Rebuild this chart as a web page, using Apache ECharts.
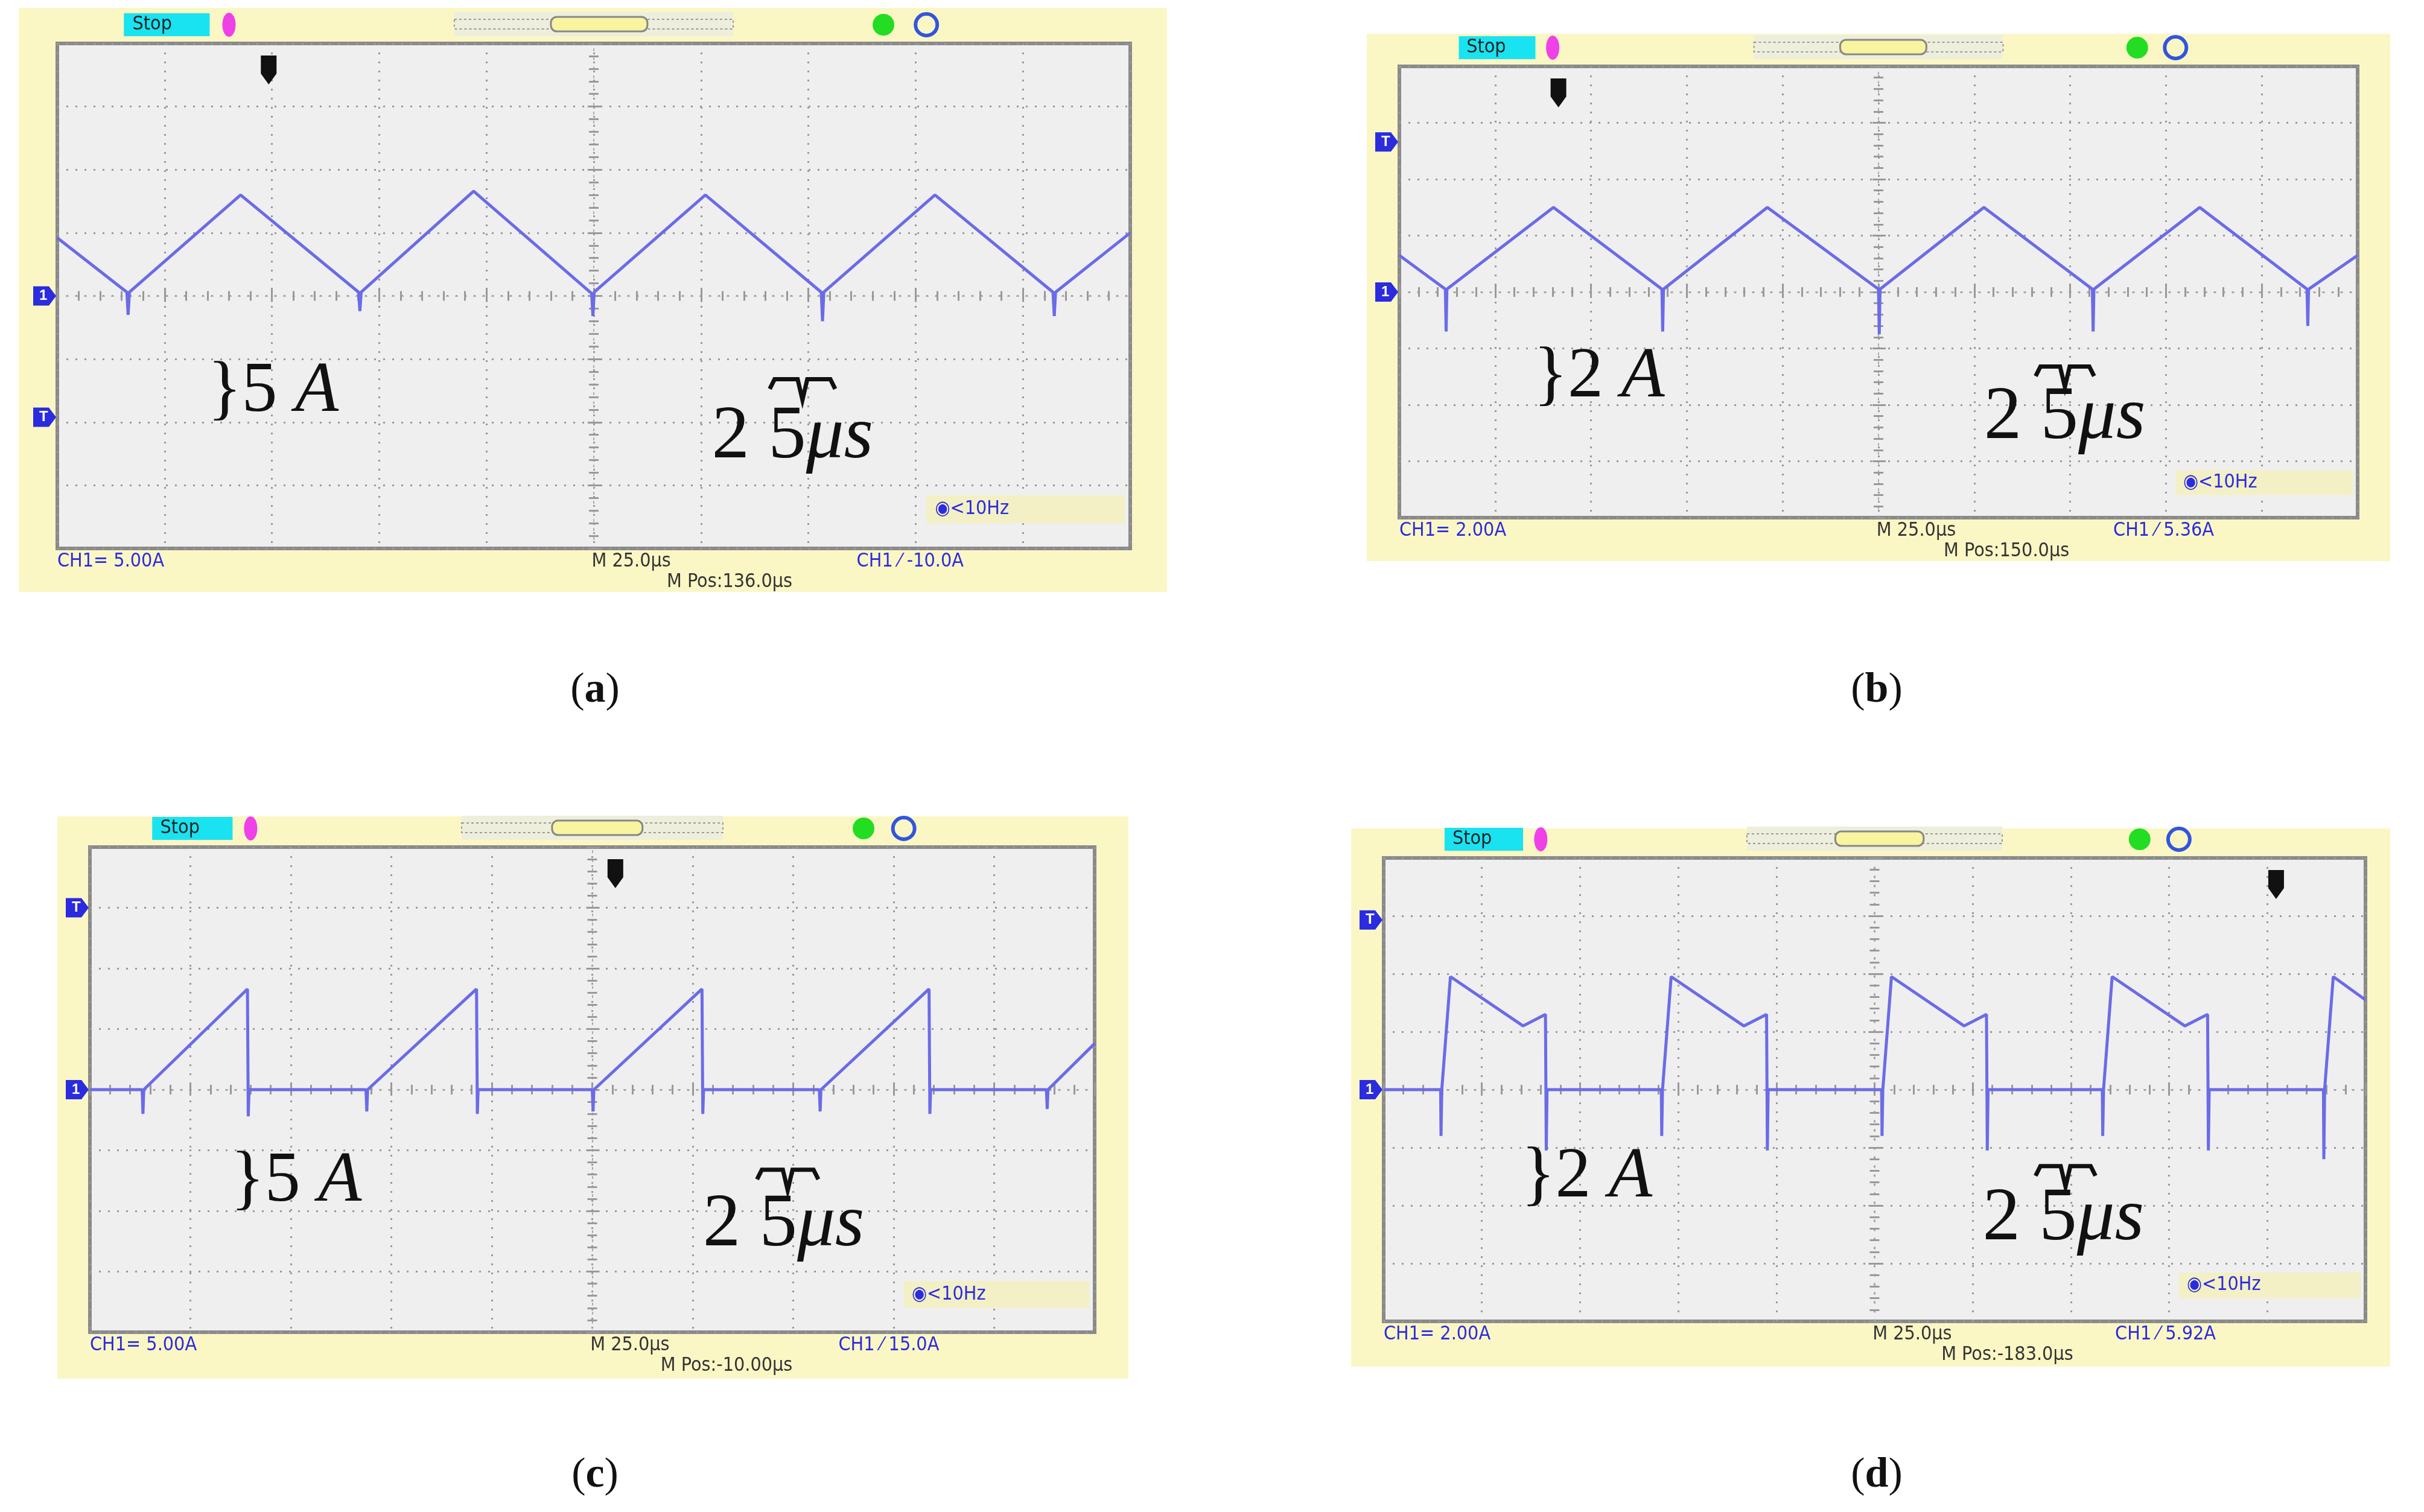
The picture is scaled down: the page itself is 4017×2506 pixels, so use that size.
<!DOCTYPE html>
<html>
<head>
<meta charset="utf-8">
<script src="https://cdn.jsdelivr.net/npm/echarts@6/dist/echarts.min.js"></script>
<style>
  html, body { margin: 0; padding: 0; background: #fff; }
  #chart { width: 4017px; height: 2506px; }
</style>
</head>
<body>
<div id="chart"></div>
<script>
// waveform data: [time us relative to screen centre, current A]
var waveA = [[-125,4.6],[-108.8,0.3],[-108.5,-1.5],[-108.2,0.3],[-82.3,8.0],[-54.8,0.3],[-54.5,-1.2],[-54.2,0.3],
  [-28,8.3],[-0.5,0.2],[-0.2,-1.6],[0.1,0.3],[26,8.0],[53,0.3],[53.3,-2.0],[53.6,0.3],[79.5,8.0],
  [107,0.3],[107.3,-1.6],[107.6,0.3],[125,5.0]]
var waveB = [[-125,1.3],[-113,0.1],[-112.8,-1.4],[-112.6,0.1],[-84.8,3.0],[-56.5,0.1],[-56.3,-1.4],[-56.1,0.1],
  [-29,3.0],[0,0.1],[0.2,-1.5],[0.4,0.1],[27.5,3.0],[55.8,0.1],[56,-1.4],[56.2,0.1],[83.8,3.0],
  [111.8,0.1],[112,-1.2],[112.2,0.1],[125,1.3]]
var waveC = [[-125,0],[-112,0],[-111.8,-2],[-111.6,0],[-85.8,8.3],[-85.6,-2.2],[-85.4,0],
  [-56.3,0],[-56.1,-1.8],[-55.9,0],[-28.8,8.3],[-28.6,-2.0],[-28.4,0],
  [0,0],[0.2,-1.8],[0.4,0],[27.3,8.3],[27.5,-2.0],[27.7,0],
  [56.5,0],[56.7,-1.8],[56.9,0],[83.8,8.3],[84,-2.0],[84.2,0],
  [113,0],[113.2,-1.6],[113.4,0],[125,3.8]]
var waveD = [[-125,0],[-110.5,0],[-110.4,-1.6],[-110.2,0],[-108,3.9],[-89.5,2.2],[-83.8,2.6],[-83.6,-2.1],[-83.4,0],
  [-54.3,0],[-54.2,-1.6],[-54,0],[-51.8,3.9],[-33.3,2.2],[-27.5,2.6],[-27.3,-2.1],[-27.1,0],
  [1.8,0],[1.9,-1.6],[2.1,0],[4.3,3.9],[22.8,2.2],[28.5,2.6],[28.7,-2.1],[28.9,0],
  [58,0],[58.1,-1.6],[58.3,0],[60.5,3.9],[79,2.2],[84.8,2.6],[85,-2.1],[85.2,0],
  [114.3,0],[114.4,-2.4],[114.6,0],[116.8,3.9],[125,3.1]]

var panelLetters = ['a', 'b', 'c', 'd']
var voltsPerDiv = [5, 2, 5, 2]
var scaleText = ['5', '2', '5', '2']
var chText = ['CH1= 5.00A', 'CH1= 2.00A', 'CH1= 5.00A', 'CH1= 2.00A']
var trigText = ['CH1 \u2044 -10.0A', 'CH1 \u2044 5.36A', 'CH1 \u2044 15.0A', 'CH1 \u2044 5.92A']
var posText = ['M Pos:136.0\u03bcs', 'M Pos:150.0\u03bcs', 'M Pos:-10.00\u03bcs', 'M Pos:-183.0\u03bcs']
var trigLevelDiv = [-1.92, 2.66, 3.0, 2.93]   // T marker on left edge, divisions from centre
var trigPosFrac = [0.197, 0.166, 0.523, 0.909]
var waves = [waveA, waveB, waveC, waveD]

// layout (pixels): yellow frame and scope grid for each panel
var frames = [[31, 13, 1934, 981], [2265, 56, 3961, 930], [95, 1353, 1870, 2285], [2239, 1373, 3961, 2265]]
var grids = [[95, 72, 1873, 909], [2319, 110, 3907, 858], [149, 1404, 1814, 2208], [2293, 1422, 3920, 2190]]
var letterPos = [[986, 1145], [3110, 1145], [986, 2446], [3110, 2446]]

var blue = '#2b2be0'
var trace = '#6b6be8'
var grid = [], xAxis = [], yAxis = [], series = [], graphic = []

grids.forEach(function (g, i) {
  var W = g[2] - g[0], H = g[3] - g[1], f = frames[i]
  grid.push({ left: g[0], top: g[1], width: W, height: H, show: true,
    backgroundColor: '#efefef', borderColor: '#8a8a8a', borderWidth: 6 })
  var vmax = voltsPerDiv[i] * 4
  var dotted = { show: true, lineStyle: { color: '#9a9a9a', width: 3, type: [3, 12] } }
  var edgeTick = { show: true, inside: true, length: 12, lineStyle: { color: '#999', width: 3 } }
  var minor = { show: true, splitNumber: 5, length: 8, lineStyle: { color: '#999', width: 3 } }
  // frame axes (bottom/left)
  xAxis.push({ gridIndex: i, type: 'value', min: -125, max: 125, interval: 25, position: 'bottom',
    axisLine: { show: false }, axisLabel: { show: false }, axisTick: edgeTick, minorTick: minor, splitLine: dotted })
  yAxis.push({ gridIndex: i, type: 'value', min: -vmax, max: vmax, interval: voltsPerDiv[i], position: 'left',
    axisLine: { show: false }, axisLabel: { show: false }, axisTick: edgeTick, minorTick: minor, splitLine: dotted })
  // centre graticule lines with ticks
  xAxis.push({ gridIndex: i, type: 'value', min: -125, max: 125, interval: 25,
    axisLine: { show: true, onZero: true, lineStyle: { color: '#aaa', width: 2, type: [3, 12] } },
    axisLabel: { show: false }, axisTick: { show: true, inside: true, length: 10, lineStyle: { color: '#999', width: 3 } },
    minorTick: minor, splitLine: { show: false } })
  yAxis.push({ gridIndex: i, type: 'value', min: -vmax, max: vmax, interval: voltsPerDiv[i],
    axisLine: { show: true, onZero: true, lineStyle: { color: '#aaa', width: 2, type: [3, 12] } },
    axisLabel: { show: false }, axisTick: { show: true, inside: true, length: 10, lineStyle: { color: '#999', width: 3 } },
    minorTick: minor, splitLine: { show: false } })
  series.push({ type: 'line', xAxisIndex: i * 2, yAxisIndex: i * 2, data: waves[i], symbol: 'none',
    lineStyle: { color: trace, width: 5 }, z: 5, silent: true })

  // yellow frame
  graphic.push({ type: 'rect', shape: { x: f[0], y: f[1], width: f[2] - f[0], height: f[3] - f[1] },
    style: { fill: '#fbf7c5' }, z: -10 })
  // top bar
  graphic.push({ type: 'rect', shape: { x: g[0] + 0.062 * W, y: g[1] - 50, width: 0.08 * W, height: 38 }, style: { fill: '#19e3f0' } })
  graphic.push({ type: 'text', x: g[0] + 0.07 * W, y: g[1] - 31, style: { text: 'Stop', fontSize: 32,
    fontFamily: 'DejaVu Sans Condensed', fill: '#222', verticalAlign: 'middle' } })
  graphic.push({ type: 'ellipse', shape: { cx: g[0] + 0.16 * W, cy: g[1] - 31, rx: 11, ry: 20 }, style: { fill: '#f040e8' } })
  graphic.push({ type: 'rect', shape: { x: g[0] + 0.37 * W, y: g[1] - 52, width: 0.26 * W, height: 40 }, style: { fill: '#eeeedd' } })
  graphic.push({ type: 'rect', shape: { x: g[0] + 0.37 * W, y: g[1] - 40, width: 0.26 * W, height: 16 },
    style: { fill: 'none', stroke: '#999', lineWidth: 2, lineDash: [4, 4] } })
  graphic.push({ type: 'rect', shape: { x: g[0] + 0.46 * W, y: g[1] - 44, width: 0.09 * W, height: 24, r: 10 },
    style: { fill: '#f8f4a0', stroke: '#888', lineWidth: 3 } })
  graphic.push({ type: 'circle', shape: { cx: g[0] + 0.77 * W, cy: g[1] - 31, r: 18 }, style: { fill: '#22dd22' } })
  graphic.push({ type: 'circle', shape: { cx: g[0] + 0.81 * W, cy: g[1] - 31, r: 18 }, style: { fill: 'none', stroke: '#3355dd', lineWidth: 6 } })
  // trigger position marker
  var tx = g[0] + trigPosFrac[i] * W
  graphic.push({ type: 'polygon', shape: { points: [[tx - 13, g[1] + 20], [tx + 13, g[1] + 20],
    [tx + 13, g[1] + 50], [tx, g[1] + 68], [tx - 13, g[1] + 50]] }, style: { fill: '#111' }, z: 6 })
  // left-edge markers: ground "1" and trigger "T"
  ;[[0, '1'], [trigLevelDiv[i], 'T']].forEach(function (m) {
    var yy = g[1] + H / 2 - m[0] * H / 8
    graphic.push({ type: 'polygon', shape: { points: [[g[0] - 40, yy - 16], [g[0] - 14, yy - 16], [g[0] - 2, yy], [g[0] - 14, yy + 16], [g[0] - 40, yy + 16]] },
      style: { fill: blue }, z: 6 })
    graphic.push({ type: 'text', x: g[0] - 30, y: yy, style: { text: m[1], fontSize: 24, fontWeight: 'bold', fill: '#fff', verticalAlign: 'middle' }, z: 7 })
  })
  // trigger frequency box
  graphic.push({ type: 'rect', shape: { x: g[0] + 0.81 * W, y: g[1] + 0.895 * H, width: 0.185 * W, height: 0.055 * H }, style: { fill: '#f3f0c6' }, z: 6 })
  graphic.push({ type: 'text', x: g[0] + 0.818 * W, y: g[1] + 0.922 * H, style: { text: '\u25c9<10Hz', fontSize: 32,
    fontFamily: 'DejaVu Sans Condensed', fill: blue, verticalAlign: 'middle' }, z: 7 })
  // bottom readouts
  var tb = { fontSize: 32, fontFamily: 'DejaVu Sans Condensed', fill: blue, verticalAlign: 'top' }
  graphic.push({ type: 'text', x: g[0], y: g[3] + 6, style: Object.assign({ text: chText[i] }, tb) })
  graphic.push({ type: 'text', x: g[0] + 0.498 * W, y: g[3] + 6, style: Object.assign({}, tb, { text: 'M 25.0\u03bcs', fill: '#333' }) })
  graphic.push({ type: 'text', x: g[0] + 0.568 * W, y: g[3] + 40, style: Object.assign({}, tb, { text: posText[i], fill: '#333' }) })
  graphic.push({ type: 'text', x: g[0] + 0.745 * W, y: g[3] + 6, style: Object.assign({ text: trigText[i] }, tb) })
  // hand-written scale annotations
  graphic.push({ type: 'text', x: g[0] + 0.14 * W, y: g[1] + 0.69 * H, style: { text: '}' + scaleText[i] + ' {i|A}',
    fontSize: 118, fontFamily: 'Liberation Serif', fill: '#111', verticalAlign: 'middle',
    rich: { i: { fontSize: 118, fontStyle: 'italic', fontFamily: 'Liberation Serif', fill: '#111' } } }, z: 8 })
  graphic.push({ type: 'text', x: g[0] + 0.61 * W, y: g[1] + 0.78 * H, style: { text: '2 5{i|\u03bcs}',
    fontSize: 125, fontFamily: 'Liberation Serif', fill: '#111', verticalAlign: 'middle',
    rich: { i: { fontSize: 125, fontStyle: 'italic', fontFamily: 'Liberation Serif', fill: '#111' } } }, z: 8 })
  // small brace over "5"
  var bx0 = g[0] + 0.664 * W, bx1 = g[0] + 0.725 * W, bm = (bx0 + bx1) / 2, by = g[1] + 0.665 * H
  graphic.push({ type: 'polyline', shape: { points: [[bx0, by + 16], [bx0 + 8, by], [bm - 8, by], [bm, by + 34],
    [bm + 8, by], [bx1 - 8, by], [bx1, by + 16]] }, style: { stroke: '#111', lineWidth: 7, fill: null }, z: 8 })
  // panel letter
  graphic.push({ type: 'text', x: letterPos[i][0], y: letterPos[i][1], style: { text: '({b|' + panelLetters[i] + '})',
    fontSize: 70, fontFamily: 'Liberation Serif', fill: '#111', align: 'center', verticalAlign: 'middle',
    rich: { b: { fontSize: 70, fontWeight: 'bold', fontFamily: 'Liberation Serif', fill: '#111' } } } })
})

var myChart = echarts.init(document.getElementById('chart'))
myChart.setOption({
  animation: false,
  backgroundColor: '#fff',
  grid: grid,
  xAxis: xAxis,
  yAxis: yAxis,
  series: series,
  graphic: graphic
})
</script>
</body>
</html>
